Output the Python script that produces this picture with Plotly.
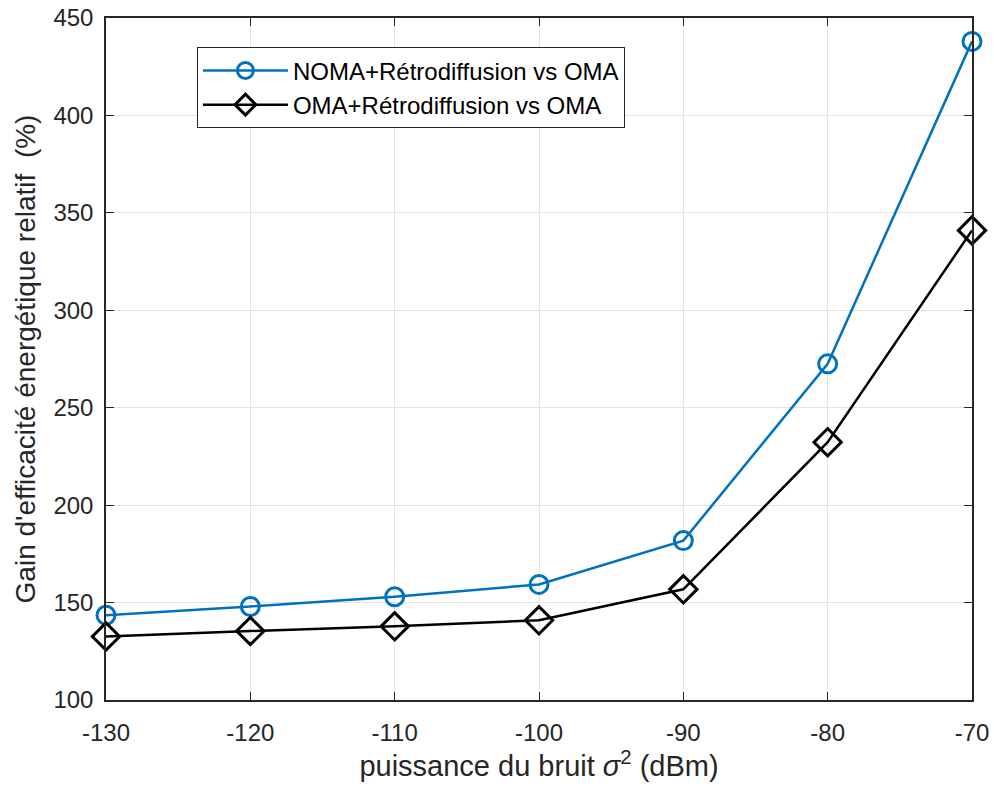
import plotly.graph_objects as go

x_vals = [-130, -120, -110, -100, -90, -80, -70]
noma_gain = [143.5, 148.0, 153.0, 159.3, 181.8, 272.5, 438.0]
oma_gain = [132.6, 135.4, 137.8, 140.9, 156.8, 232.3, 341.0]
x_ticks = [-130, -120, -110, -100, -90, -80, -70]
x_tick_labels = ["-130", "-120", "-110", "-100", "-90", "-80", "-70"]
y_ticks = [100, 150, 200, 250, 300, 350, 400, 450]

font_family = "Liberation Sans, Arial, sans-serif"

fig = go.Figure()
fig.add_trace(go.Scatter(
    x=x_vals, y=noma_gain, mode="lines+markers",
    name="NOMA+Rétrodiffusion vs OMA",
    line=dict(color="#0072BD", width=2.5),
    marker=dict(symbol="circle-open", size=18, color="#0072BD", line=dict(width=3, color="#0072BD")),
    cliponaxis=False,
))
fig.add_trace(go.Scatter(
    x=x_vals, y=oma_gain, mode="lines+markers",
    name="OMA+Rétrodiffusion vs OMA",
    line=dict(color="black", width=2.5),
    marker=dict(symbol="diamond-open", size=21, color="black", line=dict(width=3, color="black")),
    cliponaxis=False,
))

axis_common = dict(
    showline=True, linecolor="#262626", linewidth=1.5, mirror="ticks",
    ticks="inside", ticklen=8, tickwidth=1.2, tickcolor="#262626",
    showgrid=True, gridcolor="#e3e3e3", gridwidth=1,
    zeroline=False, automargin=False,
    tickfont=dict(family=font_family, size=24, color="#262626"),
)

fig.update_xaxes(
    range=[-130, -70], tickvals=x_ticks, ticktext=x_tick_labels,
    ticklabelstandoff=10,
    title=dict(text="puissance du bruit <i>σ</i><sup>2</sup> (dBm)", font=dict(family=font_family, size=29, color="#262626"), standoff=10),
    **axis_common,
)
fig.update_yaxes(
    range=[100, 450], tickvals=y_ticks,
    ticklabelstandoff=6,
    title=dict(text="Gain d'efficacité énergétique relatif  (%)", font=dict(family=font_family, size=28, color="#262626"), standoff=10),
    **axis_common,
)

fig.update_layout(
    width=994, height=793,
    margin=dict(l=106, r=22, t=18, b=93, autoexpand=False),
    plot_bgcolor="white", paper_bgcolor="white",
    font=dict(family=font_family, color="#262626"),
    legend=dict(
        x=0.105, y=0.957, xanchor="left", yanchor="top",
        bgcolor="white", bordercolor="#262626", borderwidth=1,
        font=dict(family=font_family, size=24, color="black"),
        itemwidth=85, tracegroupgap=0,
    ),
    showlegend=True,
)

fig.write_html("out.html")
